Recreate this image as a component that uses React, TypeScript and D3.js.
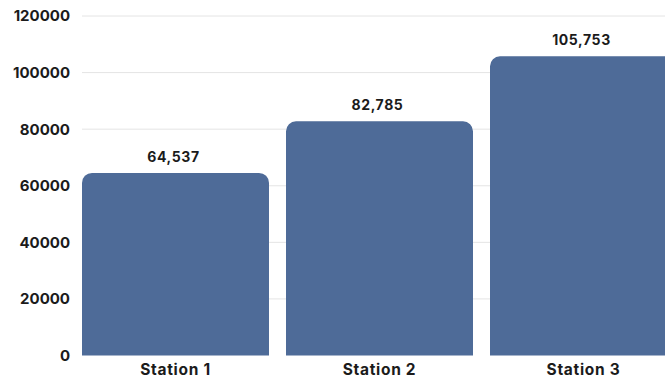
import React from "react";
import * as d3 from "d3";

const stations = ["Station 1", "Station 2", "Station 3"];
const values = [64537, 82785, 105753];
const yTicks = [0, 20000, 40000, 60000, 80000, 100000, 120000];

const W = 665;
const H = 380;

function topRoundedRect(x: number, y: number, w: number, h: number, r: number) {
  const p = d3.path();
  p.moveTo(x, y + h);
  p.lineTo(x, y + r);
  p.arcTo(x, y, x + r, y, r);
  p.lineTo(x + w - r, y);
  p.arcTo(x + w, y, x + w, y + r, r);
  p.lineTo(x + w, y + h);
  p.closePath();
  return p.toString();
}

export default function App() {
  const x = d3.scaleBand<string>().domain(stations).range([82, 677]).paddingInner(17 / 204).paddingOuter(0);
  const y = d3.scaleLinear().domain([0, 120000]).range([355.5, 16]);
  const fmt = d3.format(",");
  const font = "Inter, 'Noto Sans', sans-serif";
  return (
    <svg width={W} height={H} style={{ position: "absolute", left: 0, top: 0, background: "#fff" }} fontFamily={font}>
      {yTicks.map((t) => (
        <g key={t}>
          {t > 0 && <line x1={82} x2={W} y1={y(t)} y2={y(t)} stroke="#e4e4e4" strokeWidth={1} />}
          <text x={70} y={y(t)} dy="0.36em" textAnchor="end" fontSize={15} fontWeight={700} fill="#1b1b1b">
            {t}
          </text>
        </g>
      ))}
      {stations.map((s, i) => {
        const bx = x(s)!;
        const bw = x.bandwidth();
        const top = y(values[i]);
        const bottom = y(0);
        return (
          <g key={s}>
            <path d={topRoundedRect(bx, top, bw, bottom - top, 10)} fill="#4e6b98" />
            <text x={bx + bw / 2 - 2} y={top - 11} textAnchor="middle" fontSize={14} fontWeight={700} letterSpacing={0.6} fill="#1b1b1b">
              {fmt(values[i])}
            </text>
            <text x={bx + bw / 2} y={375} textAnchor="middle" fontSize={15.5} fontWeight={700} letterSpacing={0.7} fill="#1b1b1b">
              {s}
            </text>
          </g>
        );
      })}
    </svg>
  );
}
